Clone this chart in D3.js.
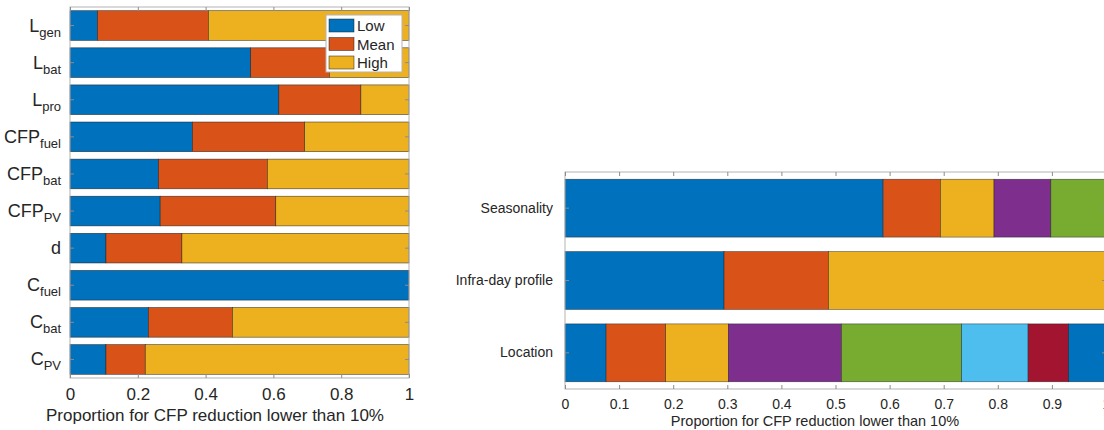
<!DOCTYPE html>
<html>
<head>
<meta charset="utf-8">
<script src="https://cdn.jsdelivr.net/npm/d3@7"></script>
<style>
body { margin: 0; background: #fff; }
svg { font-family: "Liberation Sans", Arial, sans-serif; }
</style>
</head>
<body>
<div id="chart"></div>
<script>
// left chart: parameter labels (main part + subscript) and share of each level
var paramMain = ["L", "L", "L", "CFP", "CFP", "CFP", "d", "C", "C", "C"];
var paramSub = ["gen", "bat", "pro", "fuel", "bat", "PV", "", "fuel", "bat", "PV"];
var levels = ["Low", "Mean", "High"];
var lowShare = [0.081, 0.533, 0.616, 0.361, 0.261, 0.266, 0.106, 1.0, 0.231, 0.106];
var meanShare = [0.327, 0.232, 0.242, 0.331, 0.321, 0.341, 0.224, 0.0, 0.248, 0.116];
var highShare = [0.592, 0.235, 0.142, 0.308, 0.418, 0.393, 0.670, 0.0, 0.521, 0.778];
var leftTicks = [0, 0.2, 0.4, 0.6, 0.8, 1];

// right chart: factors and their stacked parts
var factors = ["Seasonality", "Infra-day profile", "Location"];
var seasonalityParts = [0.588, 0.106, 0.099, 0.105, 0.102];
var infraDayParts = [0.294, 0.193, 0.513];
var locationParts = [0.076, 0.110, 0.116, 0.209, 0.222, 0.123, 0.075, 0.069];
var rightTicks = [0, 0.1, 0.2, 0.3, 0.4, 0.5, 0.6, 0.7, 0.8, 0.9, 1];

var xTitle = "Proportion for CFP reduction lower than 10%";

// matlab default colour order
var colors = ["#0072BD", "#D95319", "#EDB120", "#7E2F8E", "#77AC30", "#4DBEEE", "#A2142F"];

var svgWidth = 1104;
var svgHeight = 430;

var svg = d3.select("#chart").append("svg")
    .attr("width", svgWidth)
    .attr("height", svgHeight);

var boxColor = "#b3b3b3";
var tickColor = "#8c8c8c";
var textColor = "#262626";

// ---------- left chart ----------
var leftKeys = paramMain.map((m, i) => m + paramSub[i]);
var leftRows = leftKeys.map(function (k, i) {
    return { key: k, Low: lowShare[i], Mean: meanShare[i], High: highShare[i] };
});
var leftStack = d3.stack().keys(levels)(leftRows);

var xL = d3.scaleLinear().domain([0, 1]).range([70, 409]);
var yL = d3.scaleBand().domain(leftKeys).range([7, 378])
    .paddingInner(0.2).paddingOuter(0.1);

var left = svg.append("g");

left.selectAll("g.series")
    .data(leftStack)
    .enter()
    .append("g")
    .attr("fill", (d, i) => colors[i])
    .selectAll("rect")
    .data(d => d)
    .enter()
    .append("rect")
    .attr("x", d => xL(d[0]))
    .attr("y", d => yL(d.data.key))
    .attr("width", d => xL(d[1]) - xL(d[0]))
    .attr("height", yL.bandwidth())
    .attr("stroke", "#1a1a1a")
    .attr("stroke-width", 0.6)
    .attr("stroke-opacity", d => (d[1] - d[0]) > 0 ? 0.8 : 0);

left.append("rect")
    .attr("x", xL(0)).attr("y", 7)
    .attr("width", xL(1) - xL(0)).attr("height", 378 - 7)
    .attr("fill", "none").attr("stroke", boxColor);

var lb = left.append("g")
    .attr("transform", `translate(0, 378)`)
    .call(d3.axisBottom(xL).tickValues(leftTicks).tickFormat(d => d).tickSize(-4).tickPadding(10));
var lt = left.append("g")
    .attr("transform", `translate(0, 7)`)
    .call(d3.axisTop(xL).tickValues(leftTicks).tickFormat("").tickSize(-4));
var ll = left.append("g")
    .attr("transform", `translate(${xL(0)}, 0)`)
    .call(d3.axisLeft(yL).tickFormat("").tickSize(-4));
var lr = left.append("g")
    .attr("transform", `translate(${xL(1)}, 0)`)
    .call(d3.axisRight(yL).tickFormat("").tickSize(-4));

[lb, lt, ll, lr].forEach(function (a) {
    a.select(".domain").remove();
    a.selectAll("line").attr("stroke", tickColor);
    a.attr("font-family", null).attr("font-size", null);
});
lb.selectAll("text").attr("font-size", "17px").attr("fill", textColor);

// parameter labels with subscripts
var leftLabels = left.append("g")
    .selectAll("text")
    .data(leftKeys)
    .enter()
    .append("text")
    .attr("x", 61)
    .attr("y", d => yL(d) + yL.bandwidth() / 2 + 6)
    .attr("text-anchor", "end")
    .attr("fill", textColor)
    .attr("font-size", "18px");
leftLabels.append("tspan").text((d, i) => paramMain[i]);
leftLabels.append("tspan")
    .attr("dy", 5)
    .attr("font-size", "13px")
    .text((d, i) => paramSub[i]);

left.append("text")
    .attr("x", 215).attr("y", 421)
    .attr("text-anchor", "middle")
    .attr("font-size", "17px")
    .attr("fill", textColor)
    .text(xTitle);

// legend
var legend = left.append("g");
legend.append("rect")
    .attr("x", 326).attr("y", 15).attr("width", 76).attr("height", 57)
    .attr("fill", "#fff").attr("stroke", boxColor);
var legendItems = legend.selectAll("g.item")
    .data(levels)
    .enter()
    .append("g")
    .attr("transform", (d, i) => `translate(0, ${25.5 + i * 18.5})`);
legendItems.append("rect")
    .attr("x", 329).attr("y", -6.5).attr("width", 25).attr("height", 13)
    .attr("fill", (d, i) => colors[i])
    .attr("stroke", "#1a1a1a").attr("stroke-width", 0.6).attr("stroke-opacity", 0.8);
legendItems.append("text")
    .attr("x", 357).attr("y", 5.5)
    .attr("font-size", "15px")
    .attr("fill", textColor)
    .text(d => d);

// ---------- right chart ----------
var partLists = [seasonalityParts, infraDayParts, locationParts];
var nParts = d3.max(partLists, p => p.length);
var partKeys = d3.range(nParts).map(k => "p" + k);
var rightRows = factors.map(function (f, i) {
    var row = { key: f };
    partKeys.forEach((k, j) => { row[k] = partLists[i][j] || 0; });
    return row;
});
var rightStack = d3.stack().keys(partKeys)(rightRows);

var xR = d3.scaleLinear().domain([0, 1]).range([565, 1106]);
var yR = d3.scaleBand().domain(factors).range([172, 389])
    .paddingInner(0.2).paddingOuter(0.1);

var right = svg.append("g");

right.selectAll("g.series")
    .data(rightStack)
    .enter()
    .append("g")
    .attr("fill", (d, i) => colors[i % colors.length])
    .selectAll("rect")
    .data(d => d)
    .enter()
    .append("rect")
    .attr("x", d => xR(d[0]))
    .attr("y", d => yR(d.data.key))
    .attr("width", d => xR(d[1]) - xR(d[0]))
    .attr("height", yR.bandwidth())
    .attr("stroke", "#1a1a1a")
    .attr("stroke-width", 0.6)
    .attr("stroke-opacity", d => (d[1] - d[0]) > 0 ? 0.7 : 0);

right.append("rect")
    .attr("x", xR(0)).attr("y", 172)
    .attr("width", xR(1) - xR(0)).attr("height", 389 - 172)
    .attr("fill", "none").attr("stroke", boxColor);

var rb = right.append("g")
    .attr("transform", `translate(0, 389)`)
    .call(d3.axisBottom(xR).tickValues(rightTicks).tickFormat(d => d).tickSize(-4).tickPadding(10));
var rt = right.append("g")
    .attr("transform", `translate(0, 172)`)
    .call(d3.axisTop(xR).tickValues(rightTicks).tickFormat("").tickSize(-4));
var rl = right.append("g")
    .attr("transform", `translate(${xR(0)}, 0)`)
    .call(d3.axisLeft(yR).tickSize(-4).tickPadding(12));
var rr = right.append("g")
    .attr("transform", `translate(${xR(1)}, 0)`)
    .call(d3.axisRight(yR).tickFormat("").tickSize(-4));

[rb, rt, rl, rr].forEach(function (a) {
    a.select(".domain").remove();
    a.selectAll("line").attr("stroke", tickColor);
    a.attr("font-family", null).attr("font-size", null);
});
rb.selectAll("text").attr("font-size", "14px").attr("fill", textColor);
rl.selectAll("text").attr("font-size", "14px").attr("fill", textColor);

right.append("text")
    .attr("x", 815).attr("y", 426)
    .attr("text-anchor", "middle")
    .attr("font-size", "14.5px")
    .attr("fill", textColor)
    .text(xTitle);
</script>
</body>
</html>
